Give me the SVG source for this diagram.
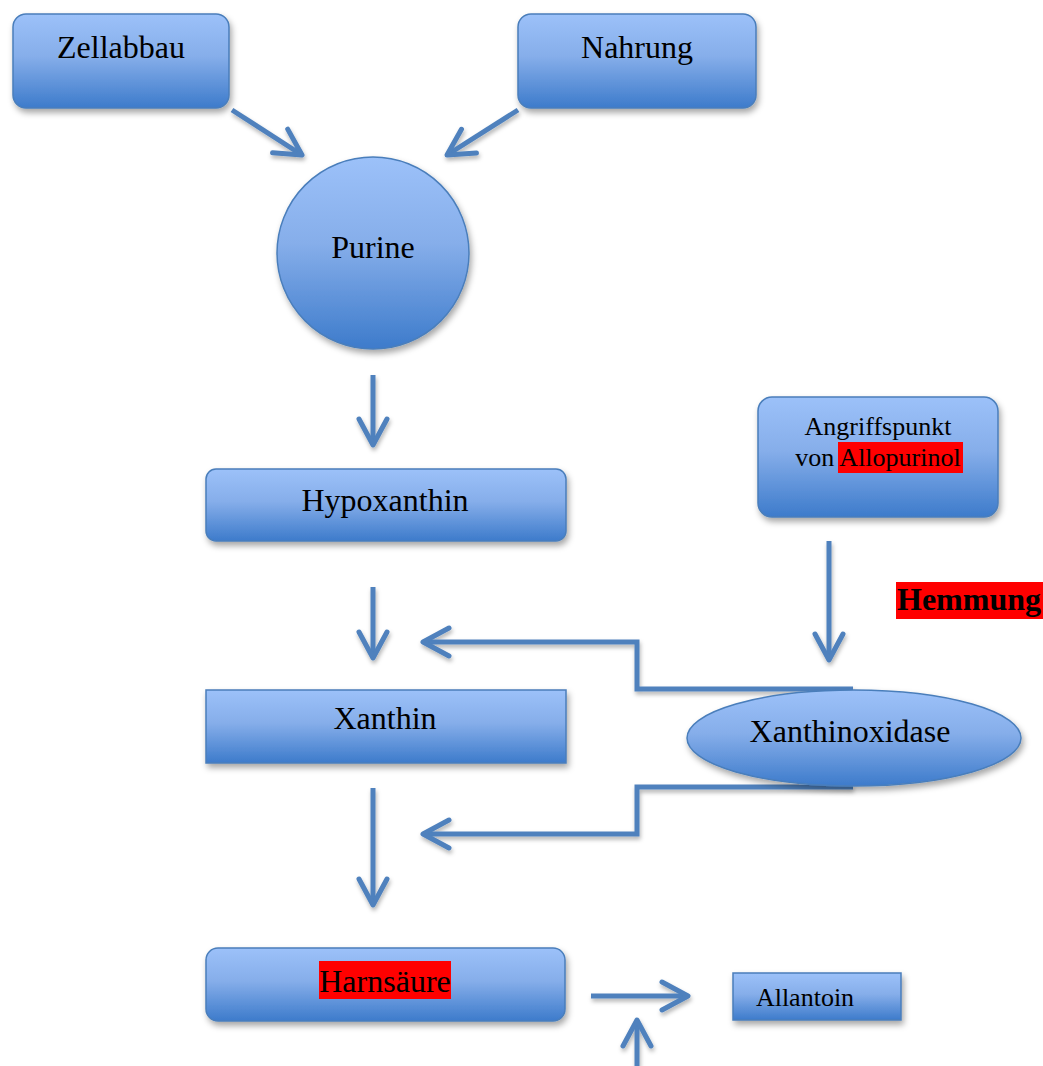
<svg xmlns="http://www.w3.org/2000/svg" width="1043" height="1066" viewBox="0 0 1043 1066">
<defs>
<linearGradient id="g" x1="0" y1="0" x2="0" y2="1">
<stop offset="0" stop-color="#9cc1f9"/>
<stop offset="0.45" stop-color="#86aeea"/>
<stop offset="1" stop-color="#3d7bcb"/>
</linearGradient>
<filter id="sh" x="-20%" y="-20%" width="140%" height="150%">
<feDropShadow dx="2" dy="4" stdDeviation="3" flood-color="#000" flood-opacity="0.35"/>
</filter>
<filter id="lsh" filterUnits="userSpaceOnUse" x="0" y="0" width="1043" height="1066">
<feDropShadow dx="1" dy="3" stdDeviation="2" flood-color="#000" flood-opacity="0.3"/>
</filter>
<marker id="ah" markerUnits="userSpaceOnUse" markerWidth="40" markerHeight="40" viewBox="-32 -20 40 40" refX="0" refY="0" orient="auto">
<path d="M-26,-14 L0,0 L-26,14" fill="none" stroke="#4f81bd" stroke-width="5" stroke-linecap="round" stroke-linejoin="round"/>
</marker>
</defs>
<style>
.node{fill:url(#g);stroke:#4a7ebb;stroke-width:1.5;filter:url(#sh)}
.t{font-family:"Liberation Serif","Times New Roman",serif;fill:#000;text-anchor:middle}
.c{fill:none;stroke:#4f81bd;stroke-width:5;filter:url(#lsh)}
.ca{marker-end:url(#ah)}
.hl{fill:#ff0000}
</style>
<g id="connectors">
<line class="c ca" x1="232" y1="110" x2="302" y2="155"/>
<line class="c ca" x1="518" y1="110" x2="447" y2="155"/>
<line class="c ca" x1="373" y1="375" x2="373" y2="445"/>
<line class="c ca" x1="373" y1="587" x2="373" y2="658"/>
<line class="c ca" x1="373" y1="788" x2="373" y2="905"/>
<line class="c ca" x1="829" y1="541" x2="829" y2="660"/>
<polyline class="c ca" points="853,689 637,689 637,642 423,642"/>
<polyline class="c ca" points="853,787 637,787 637,834 423,834"/>
<line class="c ca" x1="591" y1="996" x2="688" y2="996"/>
<line class="c ca" x1="637" y1="1066" x2="637" y2="1020"/>
</g>
<g id="zellabbau">
<rect class="node" x="13" y="14" width="216" height="94" rx="13"/>
<text class="t" x="121" y="58" font-size="32">Zellabbau</text>
</g>
<g id="nahrung">
<rect class="node" x="518" y="14" width="238" height="94" rx="13"/>
<text class="t" x="637" y="58" font-size="32">Nahrung</text>
</g>
<g id="purine">
<circle class="node" cx="373" cy="253" r="96"/>
<text class="t" x="373" y="258" font-size="32">Purine</text>
</g>
<g id="hypoxanthin">
<rect class="node" x="206" y="469" width="360" height="72" rx="10"/>
<text class="t" x="385" y="511" font-size="32">Hypoxanthin</text>
</g>
<g id="xanthin">
<rect class="node" x="206" y="690" width="360" height="73"/>
<text class="t" x="385" y="729" font-size="32">Xanthin</text>
</g>
<g id="harnsaeure">
<rect class="node" x="206" y="948" width="359" height="73" rx="12"/>
<rect class="hl" x="319" y="961" width="132" height="38"/>
<text class="t" x="385" y="992" font-size="32">Harnsäure</text>
</g>
<g id="allantoin">
<rect class="node" x="733" y="973" width="168" height="47"/>
<text class="t" x="805" y="1006" font-size="26">Allantoin</text>
</g>
<g id="angriffspunkt">
<rect class="node" x="758" y="397" width="240" height="120" rx="14"/>
<rect class="hl" x="838" y="442" width="125" height="31"/>
<text class="t" x="878" y="435" font-size="26">Angriffspunkt</text>
<text class="t" x="878" y="466" font-size="26">von Allopurinol</text>
</g>
<g id="hemmung">
<rect class="hl" x="896" y="582" width="147" height="37"/>
<text class="t" x="969" y="610" font-size="32" font-weight="bold">Hemmung</text>
</g>
<g id="xanthinoxidase">
<ellipse class="node" cx="854" cy="738" rx="167" ry="48"/>
<text class="t" x="850" y="742" font-size="32">Xanthinoxidase</text>
</g>
</svg>
